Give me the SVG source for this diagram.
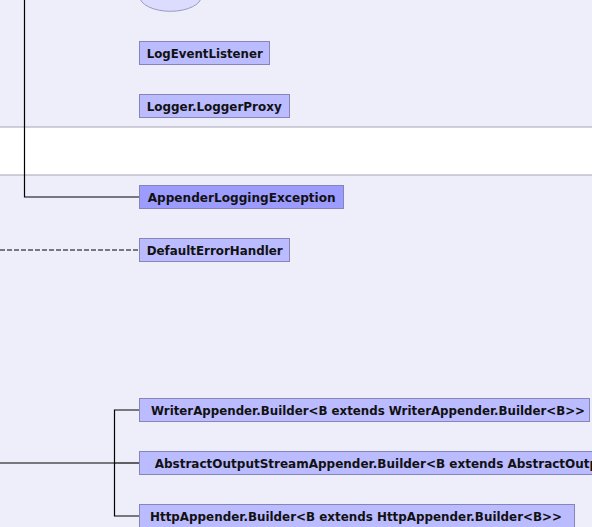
<svg xmlns="http://www.w3.org/2000/svg" width="592" height="527" viewBox="0 0 592 527">
<style>
.bg{fill:#EEEEFB}
.band{fill:#FFFFFF}
.sep{stroke:#A4A4B4;stroke-width:1.2}
.node rect{fill:#BBBBFF;stroke:#8585B8;stroke-width:1}
.node.sel rect{fill:#9C9CFF}
.node text{font-family:"DejaVu Sans","Liberation Sans",sans-serif;font-weight:bold;font-size:12px;fill:#111111}
.conn{fill:none;stroke:#000000;stroke-width:1.2}
.dash{stroke-dasharray:5,2}
</style>
<rect class="bg" x="0" y="0" width="592" height="527"/>
<rect class="band" x="0" y="127" width="592" height="48"/>
<line class="sep" x1="0" y1="127" x2="592" y2="127"/>
<line class="sep" x1="0" y1="175" x2="592" y2="175"/>
<g id="connectors">
<polyline class="conn" points="24.5,0 24.5,197 139,197"/>
<line class="conn dash" x1="0" y1="250" x2="139" y2="250"/>
<line class="conn" x1="0" y1="463" x2="114.5" y2="463"/>
<polyline class="conn" points="139,410 114.5,410 114.5,516 139,516"/>
<line class="conn" x1="114.5" y1="463" x2="139" y2="463"/>
</g>
<g id="ellipse-node">
<ellipse cx="170.5" cy="-4" rx="31" ry="15.3" fill="#DCDCFF" stroke="#9A9ABE" stroke-width="1"/>
</g>
<g id="LogEventListener" class="node">
<rect x="139.5" y="41.5" width="130" height="23"/>
<text x="146.7" y="57.5" textLength="116" lengthAdjust="spacingAndGlyphs">LogEventListener</text>
</g>
<g id="LoggerProxy" class="node">
<rect x="139.5" y="94.5" width="150" height="23"/>
<text x="146.7" y="110.5" textLength="135" lengthAdjust="spacingAndGlyphs">Logger.LoggerProxy</text>
</g>
<g id="AppenderLoggingException" class="node sel">
<rect x="139.5" y="185.5" width="204" height="23"/>
<text x="147.7" y="201.5" textLength="188" lengthAdjust="spacingAndGlyphs">AppenderLoggingException</text>
</g>
<g id="DefaultErrorHandler" class="node">
<rect x="139.5" y="238.5" width="150" height="23"/>
<text x="146.7" y="254.5" textLength="136" lengthAdjust="spacingAndGlyphs">DefaultErrorHandler</text>
</g>
<g id="WriterAppenderBuilder" class="node">
<rect x="139.5" y="398.5" width="450" height="23"/>
<text x="151" y="414.5" textLength="434" lengthAdjust="spacingAndGlyphs">WriterAppender.Builder&lt;B extends WriterAppender.Builder&lt;B&gt;&gt;</text>
</g>
<g id="AbstractOutputStreamAppenderBuilder" class="node">
<rect x="139.5" y="451.5" width="640" height="23"/>
<text x="154.7" y="467.5">AbstractOutputStreamAppender.Builder&lt;B extends AbstractOutputStreamAppender.Builder&lt;B&gt;&gt;</text>
</g>
<g id="HttpAppenderBuilder" class="node">
<rect x="139.5" y="504.5" width="435" height="23"/>
<text x="150" y="520.5" textLength="412" lengthAdjust="spacingAndGlyphs">HttpAppender.Builder&lt;B extends HttpAppender.Builder&lt;B&gt;&gt;</text>
</g>
</svg>
